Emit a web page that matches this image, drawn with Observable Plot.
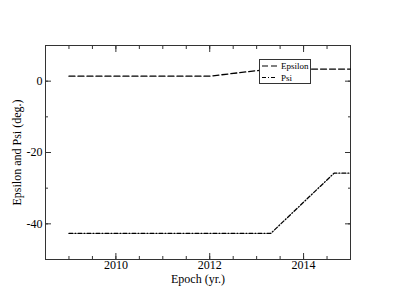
<!DOCTYPE html>
<html>
<head>
<meta charset="utf-8">
<script src="https://cdn.jsdelivr.net/npm/d3@7"></script>
<script src="https://cdn.jsdelivr.net/npm/@observablehq/plot@0.6"></script>
<style>
  html, body { margin: 0; padding: 0; background: #fff; }
  #chart { width: 395px; height: 305px; }
  #chart svg, #chart svg text { font-family: "Liberation Serif", "Times New Roman", serif !important; }
</style>
</head>
<body>
<div id="chart"></div>
<script>
// Data
const epsilonYears = [2009, 2012, 2013.3, 2015];
const epsilonValues = [1.4, 1.4, 3.4, 3.4];
const psiYears = [2009, 2013.3, 2014.65, 2015];
const psiValues = [-42.7, -42.7, -25.8, -25.8];

const xMajorTicks = [2010, 2012, 2014];
const xMinorTicks = d3.range(2009, 2015.01, 0.5);
const yMajorTicks = [-40, -20, 0];
const yMinorTicks = [-50, -40, -30, -20, -10, 0, 10];

const seriesNames = ["Epsilon", "Psi"];

const epsilon = epsilonYears.map((x, i) => ({x, y: epsilonValues[i]}));
const psi = psiYears.map((x, i) => ({x, y: psiValues[i]}));

const font = "Liberation Serif, Times New Roman, serif";
const axisColor = "#333";

const plot = Plot.plot({
  width: 395,
  height: 305,
  marginLeft: 45,
  marginRight: 45,
  marginTop: 45,
  marginBottom: 46,
  style: {fontFamily: font, fontSize: "12px", color: "#000", background: "#fff"},
  x: {domain: [2008.5, 2015]},
  y: {domain: [-50, 10]},
  marks: [
    Plot.frame({stroke: axisColor, strokeWidth: 1}),
    // bottom minor + major ticks (inward)
    Plot.axisX({anchor: "bottom", ticks: xMinorTicks, tickSize: 3, dy: -3, tickFormat: () => "", label: null, stroke: axisColor}),
    Plot.axisX({anchor: "bottom", ticks: xMajorTicks, tickSize: 6, dy: -6, tickFormat: () => "", label: null, stroke: axisColor}),
    Plot.axisX({anchor: "bottom", ticks: xMajorTicks, tickSize: 0, tickPadding: 1, tickFormat: d => String(d),
      label: "Epoch (yr.)", labelAnchor: "center", labelArrow: "none", labelOffset: 23, fontSize: 12, fontFamily: font}),
    // top ticks (inward)
    Plot.axisX({anchor: "top", ticks: xMinorTicks, tickSize: 3, dy: 3, tickFormat: () => "", label: null, stroke: axisColor}),
    Plot.axisX({anchor: "top", ticks: xMajorTicks, tickSize: 6, dy: 6, tickFormat: () => "", label: null, stroke: axisColor}),
    // left ticks (inward)
    Plot.axisY({anchor: "left", ticks: yMinorTicks, tickSize: 3, dx: 3, tickFormat: () => "", label: null, stroke: axisColor}),
    Plot.axisY({anchor: "left", ticks: yMajorTicks, tickSize: 6, dx: 6, tickFormat: () => "", label: null, stroke: axisColor}),
    Plot.axisY({anchor: "left", ticks: yMajorTicks, tickSize: 0, tickPadding: 3, tickFormat: d => String(d),
      label: "Epsilon and Psi (deg.)", labelAnchor: "center", labelArrow: "none", labelOffset: 33, fontSize: 12, fontFamily: font}),
    // right ticks (inward)
    Plot.axisY({anchor: "right", ticks: yMinorTicks, tickSize: 3, dx: -3, tickFormat: () => "", label: null, stroke: axisColor}),
    Plot.axisY({anchor: "right", ticks: yMajorTicks, tickSize: 6, dx: -6, tickFormat: () => "", label: null, stroke: axisColor}),
    // series
    Plot.line(epsilon, {x: "x", y: "y", stroke: "#000", strokeWidth: 1.3, strokeDasharray: "6,3"}),
    Plot.line(psi, {x: "x", y: "y", stroke: "#000", strokeWidth: 1.3, strokeDasharray: "4,2,1,2"})
  ]
});

document.getElementById("chart").appendChild(plot);

// Legend box inside the plot (xmgrace style)
const svg = d3.select(plot);
const lg = svg.append("g").attr("class", "legend").attr("text-anchor", "start");
lg.append("rect")
  .attr("x", 259.5).attr("y", 59.5).attr("width", 51).attr("height", 24)
  .attr("fill", "#fff").attr("stroke", axisColor).attr("stroke-width", 1);
const dashes = ["6,3", "4,2,1,2"];
seriesNames.forEach((name, i) => {
  const cy = 66 + i * 11.5;
  lg.append("line")
    .attr("x1", 262).attr("x2", 277).attr("y1", cy).attr("y2", cy)
    .attr("stroke", "#000").attr("stroke-width", 1.2).attr("stroke-dasharray", dashes[i]);
  lg.append("text")
    .attr("x", 281).attr("y", cy).attr("dy", "0.35em")
    .attr("text-anchor", "start")
    .attr("font-family", font).attr("font-size", 9).attr("fill", "#000")
    .text(name);
});
</script>
</body>
</html>
